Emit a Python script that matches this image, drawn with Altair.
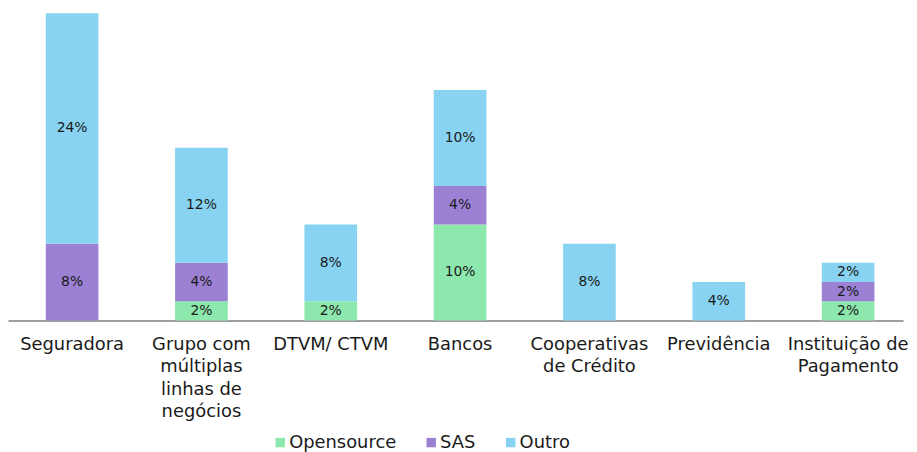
import altair as alt
import pandas as pd

categories = [
    "Seguradora",
    "Grupo com|múltiplas|linhas de|negócios",
    "DTVM/ CTVM",
    "Bancos",
    "Cooperativas|de Crédito",
    "Previdência",
    "Instituição de|Pagamento",
]
series = ["Opensource", "SAS", "Outro"]
opensource = [0, 2, 2, 10, 0, 0, 2]
sas = [8, 4, 0, 4, 0, 0, 2]
outro = [24, 12, 8, 10, 8, 4, 2]
colors = ["#8de8ad", "#9b80d4", "#87d3f1"]

rows = []
for i, c in enumerate(categories):
    for j, (s, vals) in enumerate(zip(series, [opensource, sas, outro])):
        rows.append({"category": c, "series": s, "value": vals[i], "order": j})
df = pd.DataFrame(rows)

font = "DejaVu Sans"

base = alt.Chart(df).transform_stack(
    stack="value", groupby=["category"], as_=["y0", "y1"],
    sort=[alt.SortField("order", order="ascending")]
)

xscale = alt.Scale(paddingInner=0.593, paddingOuter=0.2566, align=0.569)
xenc = alt.X(
    "category:N", sort=categories, title=None, scale=xscale,
    axis=alt.Axis(
        labelAngle=0, labelExpr="split(datum.label, '|')", labelFontSize=18,
        labelLineHeight=22.7, labelPadding=15, ticks=False, domainColor="#7f7f7f",
        domainWidth=1.5, labelColor="#1a1a1a", labelFont=font, labelLimit=200,
    ),
)
yscale = alt.Scale(domain=[0, 32.4], nice=False, zero=True)

bars = base.mark_bar().encode(
    x=xenc,
    y=alt.Y("y0:Q", scale=yscale, axis=None),
    y2="y1:Q",
    color=alt.Color(
        "series:N", sort=series,
        scale=alt.Scale(domain=series, range=colors),
        legend=alt.Legend(
            title=None, orient="none", direction="horizontal", legendX=265, legendY=427,
            symbolType="square", symbolSize=90, symbolStrokeWidth=0, labelFontSize=18,
            labelFont=font, labelColor="#1a1a1a", labelOffset=0, columnPadding=26,
        ),
    ),
    order=alt.Order("order:Q"),
)

labels = base.transform_filter("datum.value > 0").transform_calculate(
    mid="(datum.y0 + datum.y1) / 2", lbl="datum.value + '%'"
).mark_text(fontSize=14, font=font, color="#1a1a1a", baseline="middle").encode(
    x=alt.X("category:N", sort=categories, scale=xscale),
    y=alt.Y("mid:Q", scale=yscale),
    text="lbl:N",
)

chart = alt.layer(bars, labels).properties(
    width=901, height=313, padding=0
).configure(background="white").configure_view(strokeWidth=0, stroke=None)

chart.save("out.html", embed_options={"renderer": "svg", "actions": False})
